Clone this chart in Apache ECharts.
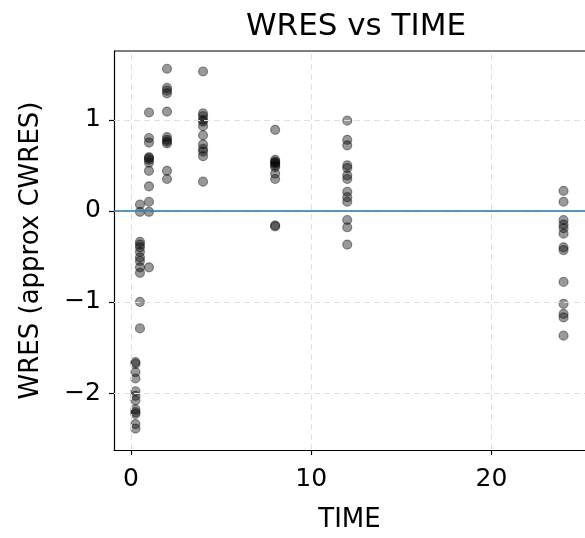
<!DOCTYPE html>
<html>
<head>
<meta charset="utf-8">
<script src="https://cdn.jsdelivr.net/npm/echarts@6/dist/echarts.min.js"></script>
<style>html,body{margin:0;padding:0;background:#fff}#c{width:585px;height:538px}</style>
</head>
<body>
<div id="c"></div>
<script>
// Nominal sampling times
var times = [0.25, 0.5, 1, 2, 4, 8, 12, 24];
// WRES values observed at each time
var wres_t0_25 = [-1.66, -1.68, -1.77, -1.84, -1.98, -2.03, -2.08, -2.18, -2.21, -2.23, -2.34, -2.39];
var wres_t0_5 = [0.07, -0.01, -0.34, -0.37, -0.40, -0.45, -0.51, -0.55, -0.62, -0.68, -1.00, -1.29];
var wres_t1 = [1.08, 0.80, 0.75, 0.59, 0.58, 0.56, 0.53, 0.44, 0.27, 0.10, -0.01, -0.62];
var wres_t2 = [1.56, 1.35, 1.32, 1.29, 1.09, 0.81, 0.78, 0.76, 0.74, 0.44, 0.35];
var wres_t4 = [1.53, 1.07, 1.04, 1.00, 0.98, 0.93, 0.83, 0.73, 0.68, 0.65, 0.60, 0.32];
var wres_t8 = [0.89, 0.56, 0.54, 0.53, 0.52, 0.50, 0.48, 0.41, 0.35, -0.16, -0.17];
var wres_t12 = [0.99, 0.78, 0.72, 0.50, 0.47, 0.39, 0.35, 0.21, 0.15, 0.10, -0.10, -0.18, -0.37];
var wres_t24 = [0.22, 0.10, -0.10, -0.15, -0.19, -0.25, -0.40, -0.43, -0.78, -1.02, -1.13, -1.17, -1.37];
var wresByTime = [wres_t0_25, wres_t0_5, wres_t1, wres_t2, wres_t4, wres_t8, wres_t12, wres_t24];
var xTicks = [0, 10, 20];
var yTicks = [-2, -1, 0, 1];
var refLine = 0;

var points = [];
times.forEach(function (t, i) {
  wresByTime[i].forEach(function (v) { points.push([t, v]); });
});

var gridLines = xTicks.map(function (v) { return {xAxis: v}; })
  .concat(yTicks.map(function (v) { return {yAxis: v}; }));

var FONT = 'DejaVu Sans';
function fmt(v) { return v < 0 ? '\u2212' + Math.abs(v) : String(v); }

var chart = echarts.init(document.getElementById('c'), null, {renderer: 'canvas'});
chart.setOption({
  animation: false,
  backgroundColor: '#ffffff',
  title: {
    text: 'WRES vs TIME',
    left: 351, top: 6, textAlign: 'center',
    textStyle: {fontFamily: FONT, fontSize: 31, fontWeight: 'normal', color: '#000'}
  },
  grid: {left: 114, right: -3, top: 51, bottom: 88, containLabel: false},
  xAxis: {
    type: 'value', min: -0.94, max: 25.19,
    name: 'TIME', nameLocation: 'middle', nameGap: 57,
    nameTextStyle: {fontFamily: FONT, fontSize: 26, color: '#000'},
    axisLine: {show: true, onZero: false, lineStyle: {color: '#000', width: 1.2}},
    axisTick: {show: true, length: 5, lineStyle: {color: '#000', width: 1.2},
      customValues: xTicks},
    axisLabel: {fontFamily: FONT, fontSize: 25, color: '#000', margin: 17,
      customValues: xTicks, formatter: fmt},
    splitLine: {show: false}
  },
  yAxis: {
    type: 'value', min: -2.625, max: 1.755,
    name: 'WRES (approx CWRES)', nameLocation: 'middle', nameGap: 70,
    nameTextStyle: {fontFamily: FONT, fontSize: 26, color: '#000'},
    axisLine: {show: true, onZero: false, lineStyle: {color: '#000', width: 1.2}},
    axisTick: {show: true, length: 5, lineStyle: {color: '#000', width: 1.2},
      customValues: yTicks},
    axisLabel: {fontFamily: FONT, fontSize: 25, color: '#000', margin: 13,
      customValues: yTicks, formatter: fmt},
    splitLine: {show: false}
  },
  series: [{
    type: 'scatter',
    data: [],
    markLine: {
      silent: true, symbol: 'none', label: {show: false},
      lineStyle: {color: '#e0e0e0', width: 1, type: [6, 4]},
      data: gridLines
    },
    z: 1
  }, {
    type: 'scatter',
    data: points,
    symbol: 'circle',
    symbolSize: 9,
    itemStyle: {color: 'rgba(0,0,0,0.5)', borderColor: 'rgba(0,0,0,0.5)', borderWidth: 1.2},
    markLine: {
      silent: true, symbol: 'none', label: {show: false},
      lineStyle: {color: '#1f77b4', width: 1.6, type: 'solid'},
      data: [{yAxis: refLine}]
    },
    z: 3
  }],
  graphic: [{
    type: 'line', shape: {x1: 114, y1: 51, x2: 585, y2: 51},
    style: {stroke: '#000', lineWidth: 1.2}, z: 10
  }]
});
</script>
</body>
</html>
